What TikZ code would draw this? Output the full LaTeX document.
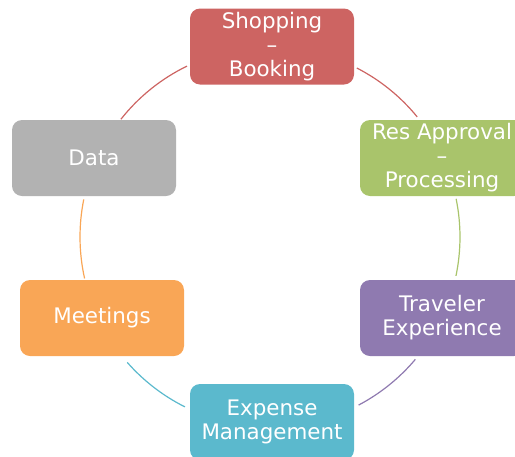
\documentclass[tikz,border=0pt]{standalone}
\usepackage{fontspec}
\setmainfont{DejaVu Sans}
\definecolor{cred}{RGB}{205,100,98}
\definecolor{cgreen}{RGB}{169,196,107}
\definecolor{cpurple}{RGB}{143,122,176}
\definecolor{cblue}{RGB}{91,185,205}
\definecolor{corange}{RGB}{249,166,86}
\definecolor{cgray}{RGB}{178,178,178}
\begin{document}
\begin{tikzpicture}[x=1pt,y=1pt,
  box/.style={rounded corners=10pt, minimum width=164pt, minimum height=76pt,
    text=white, align=center, inner sep=0pt,
    font=\fontsize{21.4}{24}\selectfont},
  link/.style={line width=1.2pt}]
\path[use as bounding box] (0,0) rectangle (515,-456);
\clip (0,0) rectangle (515,-456);
\coordinate (C) at (270,-237);
% boxes
\node[box, fill=cred]    (shop) at (272,-46.5) {Shopping\\–\\Booking};
\node[box, fill=cgreen]  (res)  at (442,-158) {Res Approval\\–\\Processing};
\node[box, fill=cpurple] (trav) at (442,-318) {Traveler\\Experience};
\node[box, fill=cblue]   (exp)  at (272,-422) {Expense\\Management};
\node[box, fill=corange] (meet) at (102,-318) {Meetings};
\node[box, fill=cgray]   (data) at (94,-158)  {Data};
% arc end points
\path (C) ++(141.7:190) coordinate (ds);
\path (C) ++(62.8:190)  coordinate (sr);
\path (C) ++(11.6:190)  coordinate (rt);
\path (C) ++(-40.1:190) coordinate (te);
\path (C) ++(243.4:190) coordinate (em);
\path (C) ++(192.6:190) coordinate (md);
% connectors
\draw[link, cred]    (ds) arc[start angle=141.7, end angle=115.9, radius=190];
\draw[link, cred]    (sr) arc[start angle=62.8,  end angle=39.2,  radius=190];
\draw[link, cgreen]  (rt) arc[start angle=11.6,  end angle=-11.8, radius=190];
\draw[link, cpurple] (te) arc[start angle=-40.1, end angle=-62.2, radius=190];
\draw[link, cblue]   (em) arc[start angle=243.4, end angle=221.3, radius=190];
\draw[link, corange] (md) arc[start angle=192.6, end angle=168.6, radius=190];
\end{tikzpicture}
\end{document}
